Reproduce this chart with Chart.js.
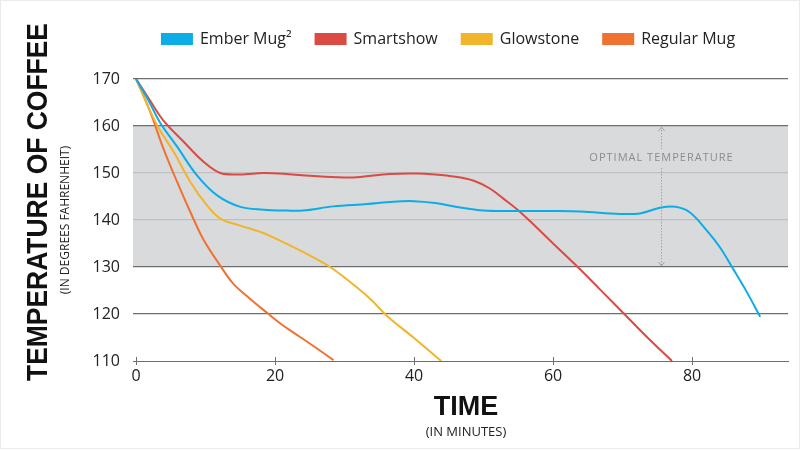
<!DOCTYPE html>
<html>
<head>
<meta charset="utf-8">
<script src="https://cdn.jsdelivr.net/npm/chart.js@4/dist/chart.umd.min.js"></script>
<style>
  html, body { margin: 0; padding: 0; background: #fff; }
  #wrap { width: 800px; height: 450px; position: relative; }
</style>
</head>
<body>
<div id="wrap"><canvas id="coffeeChart"></canvas></div>
<script>
// series labels
const seriesNames = ['Ember Mug\u00B2', 'Smartshow', 'Glowstone', 'Regular Mug'];
const seriesColors = ['#0cade6', '#db4a43', '#f0b52b', '#f07232'];

// minutes / temperature (F)
const emberMin  = [0, 2, 3.5, 5.9, 8.7, 11.6, 15, 18.3, 21.7, 24, 28.4, 33.2, 37, 40, 43, 46, 50, 55, 60, 64, 69.6, 72.5, 75.4, 77.6, 79.7, 82.1, 84, 85.9, 87.9, 89.8];
const emberTemp = [170, 164.8, 160.6, 155.6, 149.6, 145.3, 142.8, 142.2, 142.0, 142.0, 142.9, 143.4, 143.9, 144.0, 143.6, 142.8, 142.0, 141.9, 141.9, 141.8, 141.3, 141.4, 142.6, 142.8, 141.6, 137.8, 134.2, 129.6, 124.6, 119.4];

const smartMin  = [0, 2, 3.9, 6.8, 9.7, 12.1, 15, 18.3, 21.7, 25, 28.9, 31.8, 36.5, 40.3, 43, 46, 48.5, 50.9, 52.8, 54.8, 57, 60, 63.4, 66.7, 70.1, 73.5, 77.1];
const smartTemp = [170, 165.4, 161.2, 156.7, 152.4, 150, 149.7, 150, 149.8, 149.4, 149.1, 149.1, 149.8, 149.9, 149.7, 149.2, 148.4, 146.7, 144.6, 142.3, 139.3, 135.0, 130.2, 125.3, 120.2, 115.1, 110];

const glowMin  = [0, 3, 5.4, 7.8, 10.2, 12.1, 15, 18, 21, 24, 27.9, 30.8, 33.7, 36.1, 39.9, 43.9];
const glowTemp = [170, 160.2, 154.5, 148.1, 143.1, 140.3, 138.8, 137.4, 135.4, 133.2, 130, 126.8, 123.2, 119.6, 115, 110];

const regularMin  = [0, 2, 3.9, 5.9, 7.8, 9.7, 12.1, 14, 16.5, 18.8, 21, 22.6, 25.5, 28.4];
const regularTemp = [170, 163.1, 155.3, 148.1, 141.7, 135.8, 130.3, 126.4, 123.1, 120.3, 117.7, 116.1, 113.2, 110.2];

// axis ticks and the optimal band
const xTicks = [0, 20, 40, 60, 80];
const yTicks = [110, 120, 130, 140, 150, 160, 170];
const optimalBand = [130, 160];
const optimalLabel = 'OPTIMAL TEMPERATURE';

const pts = (xs, ys) => xs.map((x, i) => ({ x: x, y: ys[i] }));
const allMin = [emberMin, smartMin, glowMin, regularMin];
const allTemp = [emberTemp, smartTemp, glowTemp, regularTemp];

const datasets = seriesNames.map((name, i) => ({
  label: name,
  data: pts(allMin[i], allTemp[i]),
  borderColor: seriesColors[i],
  backgroundColor: seriesColors[i],
  borderWidth: 2,
  pointRadius: 0,
  tension: 0.35,
  fill: false
}));

// grey band for the optimal range, under the grid
const bandPlugin = {
  id: 'band',
  beforeDraw(chart) {
    const { ctx, chartArea: { left, right }, scales: { y } } = chart;
    const top = y.getPixelForValue(optimalBand[1]);
    const bottom = y.getPixelForValue(optimalBand[0]);
    ctx.save();
    ctx.fillStyle = '#d9dadc';
    ctx.fillRect(left, top, right - left, bottom - top);
    ctx.restore();
  }
};

// dotted double arrow + label inside the band
const arrowPlugin = {
  id: 'optimalArrow',
  beforeDatasetsDraw(chart) {
    const { ctx, scales: { x, y } } = chart;
    const ax = Math.round(x.getPixelForValue(75.5)) + 0.5;
    const y1 = y.getPixelForValue(optimalBand[1]) + 1;
    const y2 = y.getPixelForValue(optimalBand[0]) - 1;
    const ly = y.getPixelForValue(153.2);
    ctx.save();
    ctx.strokeStyle = '#a3a3a3';
    ctx.lineWidth = 1;
    ctx.setLineDash([1.5, 1.5]);
    ctx.beginPath();
    ctx.moveTo(ax, y1);
    ctx.lineTo(ax, ly - 9);
    ctx.moveTo(ax, ly + 10);
    ctx.lineTo(ax, y2);
    ctx.stroke();
    ctx.setLineDash([]);
    ctx.beginPath();
    ctx.moveTo(ax - 3, y1 + 4); ctx.lineTo(ax, y1); ctx.lineTo(ax + 3, y1 + 4);
    ctx.moveTo(ax - 3, y2 - 4); ctx.lineTo(ax, y2); ctx.lineTo(ax + 3, y2 - 4);
    ctx.stroke();
    ctx.fillStyle = '#8c8c8c';
    ctx.font = '11px "Open Sans"';
    ctx.letterSpacing = '1px';
    ctx.textAlign = 'center';
    ctx.textBaseline = 'middle';
    ctx.fillText(optimalLabel, ax, ly);
    ctx.restore();
  }
};

// axis titles, x tick marks and the thin frame
const titlesPlugin = {
  id: 'titles',
  afterDraw(chart) {
    const { ctx, scales: { x, y } } = chart;
    ctx.save();
    // tick marks across the x axis
    ctx.strokeStyle = '#6e6e6e';
    ctx.lineWidth = 1;
    const by = y.getPixelForValue(110);
    ctx.beginPath();
    xTicks.forEach(v => {
      const px = Math.round(x.getPixelForValue(v)) + 0.5;
      ctx.moveTo(px, by - 4);
      ctx.lineTo(px, by + 4);
    });
    ctx.stroke();

    ctx.fillStyle = '#111';
    ctx.textAlign = 'center';
    ctx.textBaseline = 'middle';
    ctx.font = 'bold 27px "Liberation Sans"';
    ctx.fillText('TIME', 466, 408, 74);
    ctx.font = '13px "Open Sans"';
    ctx.fillStyle = '#222';
    ctx.fillText('(IN MINUTES)', 466, 432, 100);

    ctx.save();
    ctx.translate(39, 202);
    ctx.rotate(-Math.PI / 2);
    ctx.fillStyle = '#111';
    ctx.font = 'bold 30px "Liberation Sans"';
    ctx.fillText('TEMPERATURE OF COFFEE', 0, 0, 358);
    ctx.restore();

    ctx.save();
    ctx.translate(66, 220);
    ctx.rotate(-Math.PI / 2);
    ctx.fillStyle = '#222';
    ctx.font = '12px "Open Sans"';
    ctx.fillText('(IN DEGREES FAHRENHEIT)', 0, 0, 212);
    ctx.restore();

    ctx.strokeStyle = '#ebebeb';
    ctx.strokeRect(0.5, 0.5, 799, 448);
    ctx.restore();
  }
};

// extra room under the legend, and nudge it right a little
const legendSpace = {
  id: 'legendSpace',
  beforeInit(chart) {
    const fit = chart.legend.fit;
    chart.legend.fit = function () {
      fit.bind(chart.legend)();
      this.height += 22;
    };
  },
  afterLayout(chart) {
    chart.legend.left += 12;
    chart.legend.right += 12;
  }
};

const config = {
  type: 'line',
  data: { datasets },
  options: {
    responsive: true,
    maintainAspectRatio: false,
    animation: false,
    layout: { padding: { left: 85, right: 12, top: 7, bottom: 0 } },
    plugins: {
      legend: {
        display: true,
        position: 'top',
        labels: {
          boxWidth: 30,
          boxHeight: 10,
          padding: 24,
          color: '#222',
          font: { family: '"Open Sans"', size: 16 }
        }
      },
      tooltip: { enabled: false }
    },
    scales: {
      x: {
        type: 'linear',
        min: -0.45,
        max: 93.8,
        afterBuildTicks: (scale) => { scale.ticks = xTicks.map(v => ({ value: v })); },
        afterFit: (scale) => { scale.height = 89; },
        grid: { display: false, drawTicks: false },
        border: { display: true, color: '#6e6e6e', width: 1 },
        ticks: {
          color: '#222',
          padding: 6,
          maxRotation: 0,
          font: { family: '"Open Sans"', size: 16 }
        }
      },
      y: {
        min: 110,
        max: 170,
        afterBuildTicks: (scale) => { scale.ticks = yTicks.map(v => ({ value: v })); },
        afterFit: (scale) => { scale.width = 48; },
        border: { display: false },
        grid: {
          drawTicks: false,
          lineWidth: 1.2,
          color: (c) => {
            const v = c.tick && c.tick.value;
            if (v === 110) return 'rgba(0,0,0,0)';
            if (v === 140 || v === 150) return '#bfc0c2';
            return '#6e6e6e';
          }
        },
        ticks: {
          color: '#222',
          padding: 13,
          font: { family: '"Open Sans"', size: 16 }
        }
      }
    }
  },
  plugins: [legendSpace, bandPlugin, arrowPlugin, titlesPlugin]
};

const myChart = new Chart(document.getElementById('coffeeChart'), config);
</script>
</body>
</html>
